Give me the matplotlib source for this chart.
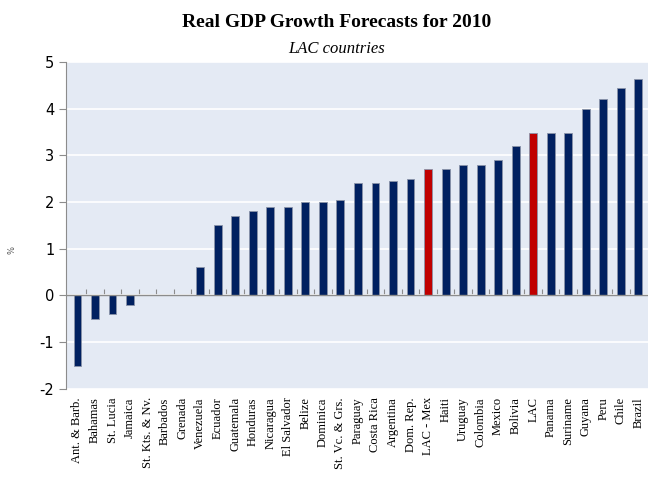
"""Real GDP growth forecasts for 2010, LAC countries (bar chart)."""
import matplotlib
matplotlib.use("Agg")
import matplotlib.pyplot as plt
import numpy as np

countries = [
    "Ant. & Barb.", "Bahamas", "St. Lucia", "Jamaica", "St. Kts. & Nv.",
    "Barbados", "Grenada", "Venezuela", "Ecuador", "Guatemala", "Honduras",
    "Nicaragua", "El Salvador", "Belize", "Dominica", "St. Vc. & Grs.",
    "Paraguay", "Costa Rica", "Argentina", "Dom. Rep.", "LAC - Mex", "Haiti",
    "Uruguay", "Colombia", "Mexico", "Bolivia", "LAC", "Panama", "Suriname",
    "Guyana", "Peru", "Chile", "Brazil",
]
growth = [
    -1.5, -0.5, -0.4, -0.2, 0.0, 0.0, 0.0, 0.6, 1.5, 1.7, 1.8,
    1.9, 1.9, 2.0, 2.0, 2.05, 2.4, 2.4, 2.45, 2.5, 2.7, 2.7,
    2.8, 2.8, 2.9, 3.2, 3.48, 3.48, 3.48, 4.0, 4.2, 4.45, 4.63,
]
highlight = ["LAC - Mex", "LAC"]

NAVY = "#002060"
RED = "#C00000"
BG = "#E4EAF4"

plt.rcParams["axes.unicode_minus"] = False

fig = plt.figure(figsize=(6.48, 4.91), dpi=100)
ax = fig.add_axes([0.102, 0.208, 0.898, 0.666])
ax.set_facecolor(BG)

x = np.arange(len(countries))
colors = [RED if c in highlight else NAVY for c in countries]
ax.bar(x, growth, width=0.45, color=colors, edgecolor="#8a93a8",
       linewidth=0.6, zorder=3)

ax.set_ylim(-2, 5)
ax.set_xlim(-0.65, len(countries) - 0.45)
ax.set_yticks(range(-2, 6))
ax.grid(axis="y", color="white", linewidth=1.2, zorder=0)
ax.axhline(0, color="#8c8c8c", linewidth=1.0, zorder=4)

for side in ["top", "right", "bottom"]:
    ax.spines[side].set_visible(False)
ax.spines["left"].set_color("#8c8c8c")
ax.tick_params(axis="y", colors="#8c8c8c", labelcolor="black", length=5,
               labelsize=10.5)
ax.set_xticks(x)
ax.set_xticklabels(countries, rotation=90, family="Liberation Serif",
                   fontsize=9)
ax.tick_params(axis="x", length=0, pad=6)

# small boundary ticks on the zero line
zero = ax.secondary_xaxis(2 / 7)
zero.set_xticks(x[:-1] + 0.5)
zero.tick_params(direction="in", length=4, color="#8c8c8c", labelbottom=False)
zero.spines["bottom"].set_visible(False)

ax.set_ylabel("%", fontsize=6, color="#555555")
ax.yaxis.set_label_coords(-0.085, 0.425)

fig.text(0.52, 0.945, "Real GDP Growth Forecasts for 2010", ha="center",
         family="Liberation Serif", fontsize=14, fontweight="bold")
fig.text(0.52, 0.893, "LAC countries", ha="center", family="Liberation Serif",
         fontsize=12, style="italic")

fig.savefig("out.png", dpi=100)
